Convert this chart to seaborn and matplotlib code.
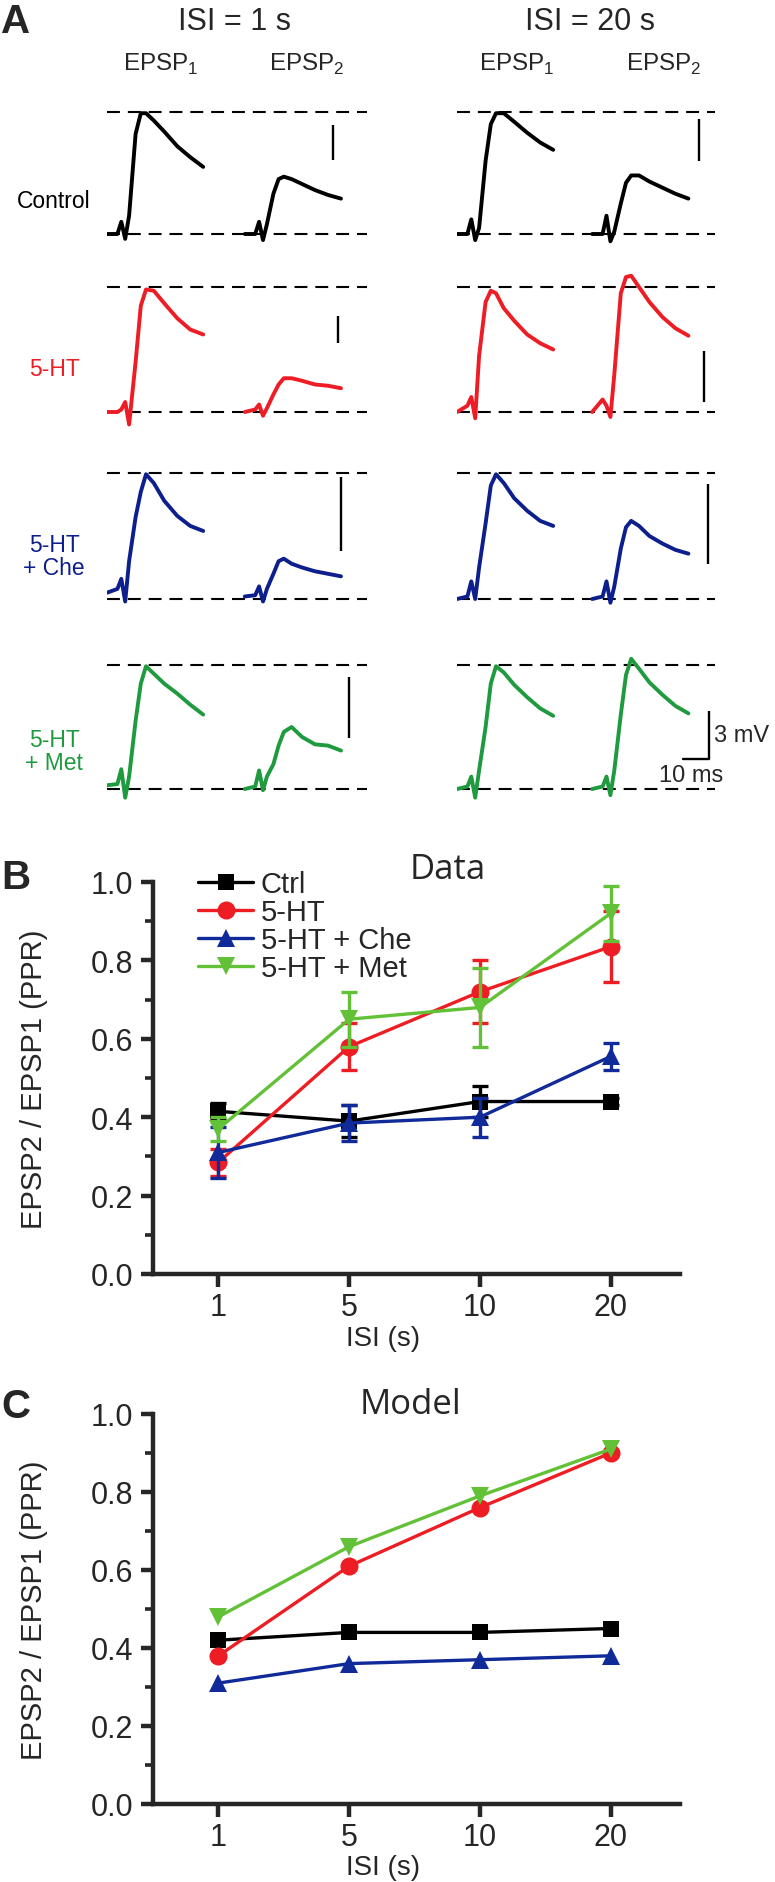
import numpy as np
import pandas as pd
import seaborn as sns
import matplotlib.pyplot as plt
from matplotlib.lines import Line2D
from matplotlib.ticker import MultipleLocator, FormatStrFormatter

sns.set_style("ticks")
plt.rcParams['font.family'] = ['Liberation Sans', 'DejaVu Sans']
plt.rcParams['mathtext.fontset'] = 'custom'
plt.rcParams['mathtext.rm'] = 'Liberation Sans'

W, H = 775, 1883

# ---------------- panel A : example traces (normalised to EPSP1 peak) ----------------
t_ms = [0, 4, 5.5, 7, 8.5, 11, 13, 15, 18, 22, 27, 32, 37]
row_names = ["Control", "5-HT", "5-HT\n+ Che", "5-HT\n+ Met"]
trace_colors = ["black", "#ee1c25", "#0c1f8c", "#1f9a3f"]

isi1_epsp1 = [
    [0, 0, 0.10, -0.04, 0.15, 0.82, 0.99, 0.99, 0.93, 0.84, 0.72, 0.63, 0.55],
    [0, 0, 0.02, 0.08, -0.10, 0.40, 0.85, 0.98, 0.97, 0.87, 0.75, 0.66, 0.62],
    [0.05, 0.08, 0.16, -0.02, 0.30, 0.65, 0.85, 0.99, 0.92, 0.78, 0.66, 0.58, 0.54],
    [0.03, 0.04, 0.16, -0.07, 0.10, 0.55, 0.85, 0.99, 0.93, 0.85, 0.77, 0.68, 0.60],
]
isi1_epsp2 = [
    [0, 0, 0.10, -0.05, 0.08, 0.33, 0.45, 0.47, 0.45, 0.41, 0.36, 0.32, 0.29],
    [0, 0.02, 0.06, -0.03, 0.03, 0.14, 0.22, 0.27, 0.27, 0.25, 0.22, 0.21, 0.19],
    [0.02, 0.03, 0.10, -0.02, 0.08, 0.20, 0.30, 0.32, 0.28, 0.25, 0.22, 0.20, 0.18],
    [0, 0.02, 0.15, -0.01, 0.10, 0.20, 0.35, 0.46, 0.50, 0.42, 0.36, 0.35, 0.31],
]
isi20_epsp1 = [
    [0, 0, 0.12, -0.05, 0.05, 0.60, 0.90, 0.99, 0.99, 0.92, 0.83, 0.75, 0.69],
    [0, 0.05, 0.12, -0.05, 0.45, 0.88, 0.97, 0.95, 0.83, 0.73, 0.62, 0.55, 0.50],
    [0, 0.02, 0.14, 0.0, 0.25, 0.60, 0.90, 0.99, 0.92, 0.80, 0.70, 0.62, 0.58],
    [0, 0.02, 0.10, -0.07, 0.15, 0.50, 0.85, 0.99, 0.94, 0.84, 0.74, 0.65, 0.59],
]
isi20_epsp2 = [
    [0, 0, 0.15, -0.06, 0.02, 0.25, 0.42, 0.48, 0.48, 0.43, 0.38, 0.33, 0.29],
    [0, 0.10, 0.05, -0.04, 0.30, 0.95, 1.08, 1.09, 1.00, 0.88, 0.76, 0.67, 0.61],
    [0, 0.02, 0.14, -0.03, 0.10, 0.40, 0.57, 0.62, 0.58, 0.50, 0.44, 0.39, 0.36],
    [0, 0.02, 0.10, -0.05, 0.15, 0.60, 0.92, 1.05, 0.97, 0.86, 0.76, 0.67, 0.61],
]
# 3 mV scale bar in normalised units for each row
bar_len_isi1 = [0.28, 0.22, 0.59, 0.49]
bar_len_isi20 = [0.34, 0.41, 0.63, 0.39]

# ---------------- panels B and C : paired pulse ratio ----------------
isi_labels = ["1", "5", "10", "20"]
groups = ["Ctrl", "5-HT", "5-HT + Che", "5-HT + Met"]
data_mean = {
    "Ctrl": [0.415, 0.39, 0.44, 0.44],
    "5-HT": [0.285, 0.58, 0.72, 0.835],
    "5-HT + Che": [0.31, 0.385, 0.40, 0.555],
    "5-HT + Met": [0.37, 0.65, 0.68, 0.92],
}
data_sem = {
    "Ctrl": [0.02, 0.04, 0.04, 0.01],
    "5-HT": [0.035, 0.06, 0.08, 0.09],
    "5-HT + Che": [0.065, 0.045, 0.05, 0.035],
    "5-HT + Met": [0.03, 0.07, 0.10, 0.07],
}
model_ppr = {
    "Ctrl": [0.42, 0.44, 0.44, 0.45],
    "5-HT": [0.38, 0.61, 0.76, 0.90],
    "5-HT + Che": [0.31, 0.36, 0.37, 0.38],
    "5-HT + Met": [0.48, 0.66, 0.79, 0.91],
}
group_colors = ["black", "#ee1d23", "#102a9a", "#62c136"]
group_markers = ["s", "o", "^", "v"]
group_msize = [12, 13, 13.5, 13.5]


def rect(left, top, right, bottom):
    return [left / W, 1 - bottom / H, (right - left) / W, (bottom - top) / H]


fig = plt.figure(figsize=(W / 100, H / 100), dpi=100)

# layout of panel A rows (pixel rows of the dashed lines)
row_top = [113, 288, 474, 666]
row_bot = [235, 413, 600, 790]
pad = 0.3
px_per_ms = 2.6
groups_x = [(107, 367, 53, isi1_epsp1, isi1_epsp2, bar_len_isi1, [0.89, 0.77, 0.97, 0.90], [87, 89, 90, 93]),
            (457, 715, 52, isi20_epsp1, isi20_epsp2, bar_len_isi20, [0.94, 0.49, 0.91, 0.63], [93, 95, 96.5, 97])]

for r in range(4):
    h = row_bot[r] - row_top[r]
    for (x0, x1, off, e1, e2, blen, btop, bx) in groups_x:
        ax = fig.add_axes(rect(x0, row_top[r] - pad * h, x1, row_bot[r] + pad * h))
        ax.set_xlim(0, (x1 - x0) / px_per_ms)
        ax.set_ylim(-pad, 1 + pad)
        ax.axis("off")
        for yy in (0, 1):
            ax.axhline(yy, color="black", lw=1.5, ls=(0, (6.2, 3.8)), zorder=1)
        sns.lineplot(x=t_ms, y=e1[r], color=trace_colors[r], lw=2.8, ax=ax, zorder=3)
        sns.lineplot(x=np.array(t_ms) + off, y=e2[r], color=trace_colors[r], lw=2.8, ax=ax, zorder=3)
        ax.plot([bx[r], bx[r]], [btop[r] - blen[r], btop[r]], color="black", lw=1.7,
                solid_capstyle="butt", clip_on=False)
        if r == 3 and x0 > 400:
            ax.plot([bx[r] - 10, bx[r]], [btop[r] - blen[r]] * 2, color="black", lw=1.7, clip_on=False)
            ax.text(bx[r] + 2, btop[r] - blen[r] / 2, "3 mV", fontsize=17, ha="left", va="center", clip_on=False)
            ax.text(bx[r] - 7, btop[r] - blen[r] - 0.13, "10 ms", fontsize=17, ha="center", va="center")
    yc = [202, 370, 557, 752][r]
    fig.text(54 / W, 1 - yc / H, row_names[r], color=trace_colors[r], fontsize=16.5,
             ha="center", va="center", linespacing=1.0, multialignment="center")

fig.text(235 / W, 1 - 22 / H, "ISI = 1 s", fontsize=22, ha="center", va="center")
fig.text(590 / W, 1 - 22 / H, "ISI = 20 s", fontsize=22, ha="center", va="center")
for xc, lab in [(161, r"EPSP$_\mathregular{1}$"), (307, r"EPSP$_\mathregular{2}$"),
                (517, r"EPSP$_\mathregular{1}$"), (664, r"EPSP$_\mathregular{2}$")]:
    fig.text(xc / W, 1 - 64 / H, lab, fontsize=17.5, ha="center", va="center")

fig.text(1 / W, 1 - 22 / H, "A", fontsize=29, weight="bold", ha="left", va="center")
fig.text(1 / W, 1 - 878 / H, "B", fontsize=29, weight="bold", ha="left", va="center")
fig.text(1 / W, 1 - 1407 / H, "C", fontsize=29, weight="bold", ha="left", va="center")


def ppr_axes(top, bottom, values, sems, title, title_x, title_y, xlab_y):
    ax = fig.add_axes(rect(153, top, 680, bottom))
    pos = np.arange(len(isi_labels))
    for i, g in enumerate(groups):
        sns.lineplot(x=pos, y=values[g], color=group_colors[i], marker=group_markers[i],
                     markersize=group_msize[i], markeredgewidth=0, lw=2.4, ax=ax,
                     zorder=3 + i, clip_on=False)
        if sems is not None:
            ax.errorbar(pos, values[g], yerr=sems[g], fmt="none", ecolor=group_colors[i],
                        elinewidth=2.4, capsize=6, capthick=2.4, zorder=3 + i, clip_on=False)
    ax.set_xlim(-0.5, 3.53)
    ax.set_ylim(0, 1.0)
    ax.set_xticks(pos)
    ax.set_xticklabels(isi_labels)
    ax.set_yticks(np.arange(0, 1.01, 0.2))
    ax.yaxis.set_major_formatter(FormatStrFormatter("%.1f"))
    ax.yaxis.set_minor_locator(MultipleLocator(0.1))
    sns.despine(ax=ax)
    for s in ("left", "bottom"):
        ax.spines[s].set_linewidth(3.2)
    ax.tick_params(axis="both", which="major", width=3.2, length=9, labelsize=22, pad=4)
    ax.tick_params(axis="y", which="minor", width=2.6, length=6)
    ax.tick_params(axis="y", which="major", pad=5)
    ax.set_ylabel("EPSP2 / EPSP1 (PPR)", fontsize=21)
    ax.yaxis.set_label_coords(-0.2, 0.5)
    ax.set_xlabel("ISI (s)", fontsize=20)
    ax.xaxis.set_label_coords(0.436, xlab_y)
    ax.text(title_x, title_y, title, transform=ax.transAxes, fontsize=25,
            family=["Open Sans", "DejaVu Sans"], ha="center", va="center")
    return ax


axB = ppr_axes(883, 1275, data_mean, data_sem, "Data", 0.56, 1.033, -0.13)
handles = [Line2D([], [], color=group_colors[i], marker=group_markers[i], markersize=group_msize[i],
                  markeredgewidth=0, lw=2.4) for i in range(len(groups))]
axB.legend(handles, groups, loc="upper left", bbox_to_anchor=(0.085, 1.03), frameon=False,
           fontsize=21, handlelength=1.9, handletextpad=0.25, labelspacing=0.0,
           borderpad=0, borderaxespad=0)

axC = ppr_axes(1415, 1805, model_ppr, None, "Model", 0.488, 1.026, -0.127)

fig.savefig("out.png", dpi=100)
